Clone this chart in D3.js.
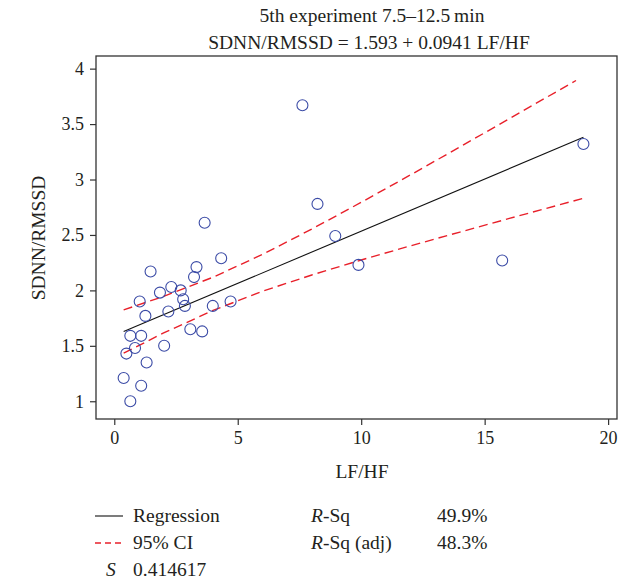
<!DOCTYPE html>
<html>
<head>
<meta charset="utf-8">
<script src="https://cdn.jsdelivr.net/npm/d3@7"></script>
<style>
  html, body { margin: 0; padding: 0; background: #fff; }
  svg { display: block; }
  text { font-family: "Liberation Serif", "Times New Roman", serif; fill: #231f20; }
</style>
</head>
<body>
<svg id="chart" width="633" height="582"></svg>
<script>
// Observations: LF/HF ratio vs SDNN/RMSSD
const lfhf = [0.38, 0.65, 1.09, 1.31, 0.49, 0.84, 0.65, 1.09, 2.02, 1.26, 1.03, 1.47,
              1.85, 2.31, 2.19, 2.69, 2.79, 2.86, 3.08, 3.56, 3.23, 3.33, 4.33, 3.99,
              4.71, 3.66, 7.62, 8.23, 8.95, 19.0, 9.89, 15.71];
const sdnnRmssd = [1.21, 1.00, 1.14, 1.35, 1.43, 1.48, 1.59, 1.59, 1.50, 1.77, 1.90, 2.17,
                   1.98, 2.03, 1.81, 2.00, 1.92, 1.86, 1.65, 1.63, 2.12, 2.21, 2.29, 1.86,
                   1.90, 2.61, 3.67, 2.78, 2.49, 3.32, 2.23, 2.27];

// Fitted line: SDNN/RMSSD = 1.593 + 0.0941 LF/HF
const intercept = 1.593;
const slope = 0.0941;
const fitRange = [0.38, 19.0];

// 95% confidence band of the fit
const ciX     = [0.38, 2, 4, 6, 8, 10, 12, 14, 16, 18, 18.7];
const ciUpper = [1.824, 1.946, 2.119, 2.324, 2.553, 2.794, 3.042, 3.294, 3.549, 3.804, 3.893];
const ciX2    = [0.38, 2, 4, 6, 8, 10, 12, 14, 16, 18, 19.0];
const ciLower = [1.434, 1.616, 1.819, 1.992, 2.139, 2.274, 2.402, 2.526, 2.649, 2.770, 2.831];

const xTicks = [0, 5, 10, 15, 20];
const yTicks = [1, 1.5, 2, 2.5, 3, 3.5, 4];

const titleLines = ["5th experiment 7.5\u201312.5\u2009min", "SDNN/RMSSD = 1.593 + 0.0941 LF/HF"];
const xTitle = "LF/HF";
const yTitle = "SDNN/RMSSD";

const svg = d3.select("#chart");
const frame = { left: 96, right: 617, top: 56, bottom: 419 };
const textSize = 19.5;
const tickSize = 18;

const x = d3.scaleLinear().domain([-0.74, 20.36]).range([frame.left, frame.right]);
const y = d3.scaleLinear().domain([0.84, 4.114]).range([frame.bottom, frame.top]);

// plot frame
svg.append("rect")
  .attr("x", frame.left).attr("y", frame.top)
  .attr("width", frame.right - frame.left).attr("height", frame.bottom - frame.top)
  .attr("fill", "none").attr("stroke", "#333").attr("stroke-width", 1.3);

// axes
const xAxis = d3.axisBottom(x).tickValues(xTicks).tickSize(6).tickPadding(6).tickFormat(d3.format("d"));
const gx = svg.append("g").attr("transform", `translate(0,${frame.bottom})`).call(xAxis);
gx.select(".domain").remove();
gx.selectAll("line").attr("stroke", "#333").attr("stroke-width", 1.2);
gx.selectAll("text").attr("font-size", tickSize).style("font-family", "Liberation Serif, serif").attr("fill", "#231f20");

const yAxis = d3.axisLeft(y).tickValues(yTicks).tickSize(6).tickPadding(6).tickFormat(d3.format("~g"));
const gy = svg.append("g").attr("transform", `translate(${frame.left},0)`).call(yAxis);
gy.select(".domain").remove();
gy.selectAll("line").attr("stroke", "#333").attr("stroke-width", 1.2);
gy.selectAll("text").attr("font-size", tickSize).style("font-family", "Liberation Serif, serif").attr("fill", "#231f20");

// titles
svg.append("text").attr("x", 372).attr("y", 22).attr("text-anchor", "middle")
  .attr("font-size", textSize).text(titleLines[0]);
svg.append("text").attr("x", 369).attr("y", 49).attr("text-anchor", "middle")
  .attr("font-size", textSize).text(titleLines[1]);
svg.append("text").attr("x", 362).attr("y", 478).attr("text-anchor", "middle")
  .attr("font-size", textSize).text(xTitle);
svg.append("text").attr("transform", "translate(45,238) rotate(-90)").attr("text-anchor", "middle")
  .attr("font-size", textSize).text(yTitle);

// confidence band
const line = d3.line().x(d => x(d[0])).y(d => y(d[1]));
svg.append("path").datum(ciX.map((v, i) => [v, ciUpper[i]]))
  .attr("d", line).attr("fill", "none").attr("stroke", "#e8202a")
  .attr("stroke-width", 1.4).attr("stroke-dasharray", "9,5");
svg.append("path").datum(ciX2.map((v, i) => [v, ciLower[i]]))
  .attr("d", line).attr("fill", "none").attr("stroke", "#e8202a")
  .attr("stroke-width", 1.4).attr("stroke-dasharray", "9,5");

// regression line
svg.append("path").datum(fitRange.map(v => [v, intercept + slope * v]))
  .attr("d", line).attr("fill", "none").attr("stroke", "#111").attr("stroke-width", 1.1);

// observations
svg.append("g").selectAll("circle").data(lfhf).join("circle")
  .attr("cx", d => x(d))
  .attr("cy", (d, i) => y(sdnnRmssd[i]))
  .attr("r", 5.5)
  .attr("fill", "none").attr("stroke", "#3b4ba6").attr("stroke-width", 1.1);

// legend and fit summary
const lg = svg.append("g");
lg.append("line").attr("x1", 95).attr("x2", 123).attr("y1", 516).attr("y2", 516)
  .attr("stroke", "#111").attr("stroke-width", 1.1);
lg.append("text").attr("x", 133).attr("y", 522).attr("font-size", textSize).text("Regression");
lg.append("line").attr("x1", 95).attr("x2", 123).attr("y1", 543).attr("y2", 543)
  .attr("stroke", "#e8202a").attr("stroke-width", 1.4).attr("stroke-dasharray", "6,4");
lg.append("text").attr("x", 133).attr("y", 549).attr("font-size", textSize).text("95% CI");
lg.append("text").attr("x", 106).attr("y", 576).attr("font-size", textSize).attr("font-style", "italic").text("S");
lg.append("text").attr("x", 133).attr("y", 576).attr("font-size", textSize).text("0.414617");

const r1 = lg.append("text").attr("x", 311).attr("y", 522).attr("font-size", textSize);
r1.append("tspan").attr("font-style", "italic").text("R");
r1.append("tspan").text("-Sq");
lg.append("text").attr("x", 437).attr("y", 522).attr("font-size", textSize).text("49.9%");
const r2 = lg.append("text").attr("x", 311).attr("y", 549).attr("font-size", textSize);
r2.append("tspan").attr("font-style", "italic").text("R");
r2.append("tspan").text("-Sq (adj)");
lg.append("text").attr("x", 437).attr("y", 549).attr("font-size", textSize).text("48.3%");
</script>
</body>
</html>
